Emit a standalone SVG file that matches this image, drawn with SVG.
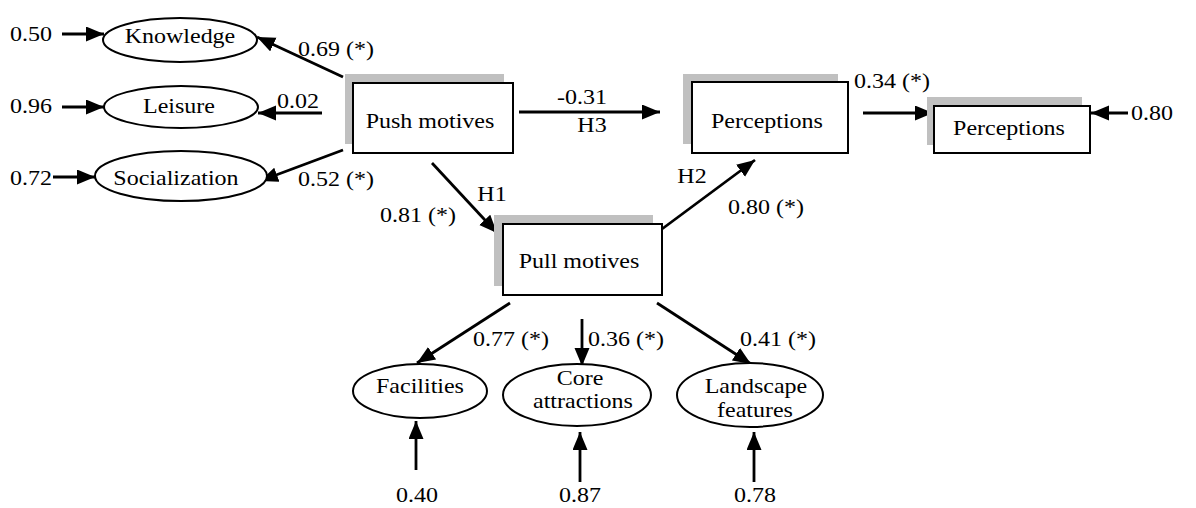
<svg xmlns="http://www.w3.org/2000/svg" width="1196" height="508" viewBox="0 0 1196 508">
<style>
text{font-family:"Liberation Serif","Times New Roman",serif;font-size:20px;fill:#000;text-anchor:middle;transform-box:fill-box;transform-origin:center;transform:scaleX(1.2)}
.box{fill:#fff;stroke:#000;stroke-width:2}
.shadow{fill:#c0c0c0;stroke:none}
.ell{fill:#fff;stroke:#000;stroke-width:2}
.c{stroke:#000;stroke-width:2.8;fill:none;marker-end:url(#ah)}
</style>
<defs>
<marker id="ah" markerUnits="userSpaceOnUse" markerWidth="19" markerHeight="16" refX="18" refY="7.5" orient="auto">
<path d="M0,0 L18,7.5 L0,15 z" fill="#000"/>
</marker>
</defs>
<rect width="1196" height="508" fill="#fff"/>
<g id="connectors">
<line class="c" x1="62" y1="34" x2="104" y2="34"/>
<line class="c" x1="62" y1="107" x2="104" y2="107"/>
<line class="c" x1="53" y1="177" x2="95" y2="177"/>
<line class="c" x1="343" y1="77" x2="257" y2="37"/>
<line class="c" x1="322" y1="113" x2="258" y2="113"/>
<line class="c" x1="343" y1="150" x2="260" y2="181"/>
<line class="c" x1="519" y1="112" x2="660" y2="112"/>
<line class="c" x1="432" y1="163" x2="497" y2="233"/>
<line class="c" x1="662" y1="229" x2="755" y2="160"/>
<line class="c" x1="863" y1="113" x2="933" y2="113"/>
<line class="c" x1="1128" y1="113" x2="1091" y2="113"/>
<line class="c" x1="510" y1="303" x2="417" y2="363"/>
<line class="c" x1="582" y1="319" x2="582" y2="366"/>
<line class="c" x1="657" y1="303" x2="751" y2="364"/>
<line class="c" x1="416" y1="470" x2="416" y2="421"/>
<line class="c" x1="580" y1="482" x2="580" y2="432"/>
<line class="c" x1="754" y1="482" x2="754" y2="432"/>
</g>
<g id="labels">
<text x="31" y="41">0.50</text>
<text x="31" y="113">0.96</text>
<text x="31" y="185">0.72</text>
<text x="336" y="56">0.69 (*)</text>
<text x="298" y="108">0.02</text>
<text x="336" y="186">0.52 (*)</text>
<text x="582" y="104">-0.31</text>
<text x="592" y="132">H3</text>
<text x="492" y="201">H1</text>
<text x="418" y="222">0.81 (*)</text>
<text x="692" y="183">H2</text>
<text x="766" y="214">0.80 (*)</text>
<text x="892" y="88">0.34 (*)</text>
<text x="1152" y="120">0.80</text>
<text x="511" y="346">0.77 (*)</text>
<text x="626" y="346">0.36 (*)</text>
<text x="778" y="346">0.41 (*)</text>
<text x="417" y="502">0.40</text>
<text x="580" y="502">0.87</text>
<text x="755" y="502">0.78</text>
</g>
<g id="knowledge"><ellipse class="ell" cx="180" cy="40" rx="77" ry="22"/><text x="180" y="43">Knowledge</text></g>
<g id="leisure"><ellipse class="ell" cx="181" cy="107" rx="77" ry="21"/><text x="179" y="113">Leisure</text></g>
<g id="socialization"><ellipse class="ell" cx="181" cy="176" rx="86" ry="25"/><text x="176" y="185">Socialization</text></g>
<g id="push"><rect class="shadow" x="345" y="74" width="159" height="70"/><rect class="box" x="353" y="83" width="160" height="70"/><text x="430" y="128">Push motives</text></g>
<g id="perceptions1"><rect class="shadow" x="683" y="74" width="155" height="70"/><rect class="box" x="692" y="82" width="156" height="71"/><text x="767" y="128">Perceptions</text></g>
<g id="perceptions2"><rect class="shadow" x="927" y="97" width="155" height="48"/><rect class="box" x="934" y="106" width="156" height="47"/><text x="1009" y="135">Perceptions</text></g>
<g id="pull"><rect class="shadow" x="494" y="215" width="159" height="71"/><rect class="box" x="503" y="224" width="159" height="71"/><text x="579" y="268">Pull motives</text></g>
<g id="facilities"><ellipse class="ell" cx="420" cy="391" rx="67" ry="27"/><text x="420" y="393">Facilities</text></g>
<g id="core"><ellipse class="ell" cx="577" cy="395" rx="74" ry="31"/><text x="580" y="385">Core</text><text x="583" y="408">attractions</text></g>
<g id="landscape"><ellipse class="ell" cx="750" cy="395" rx="73" ry="32"/><text x="756" y="393">Landscape</text><text x="755" y="417">features</text></g>
</svg>
